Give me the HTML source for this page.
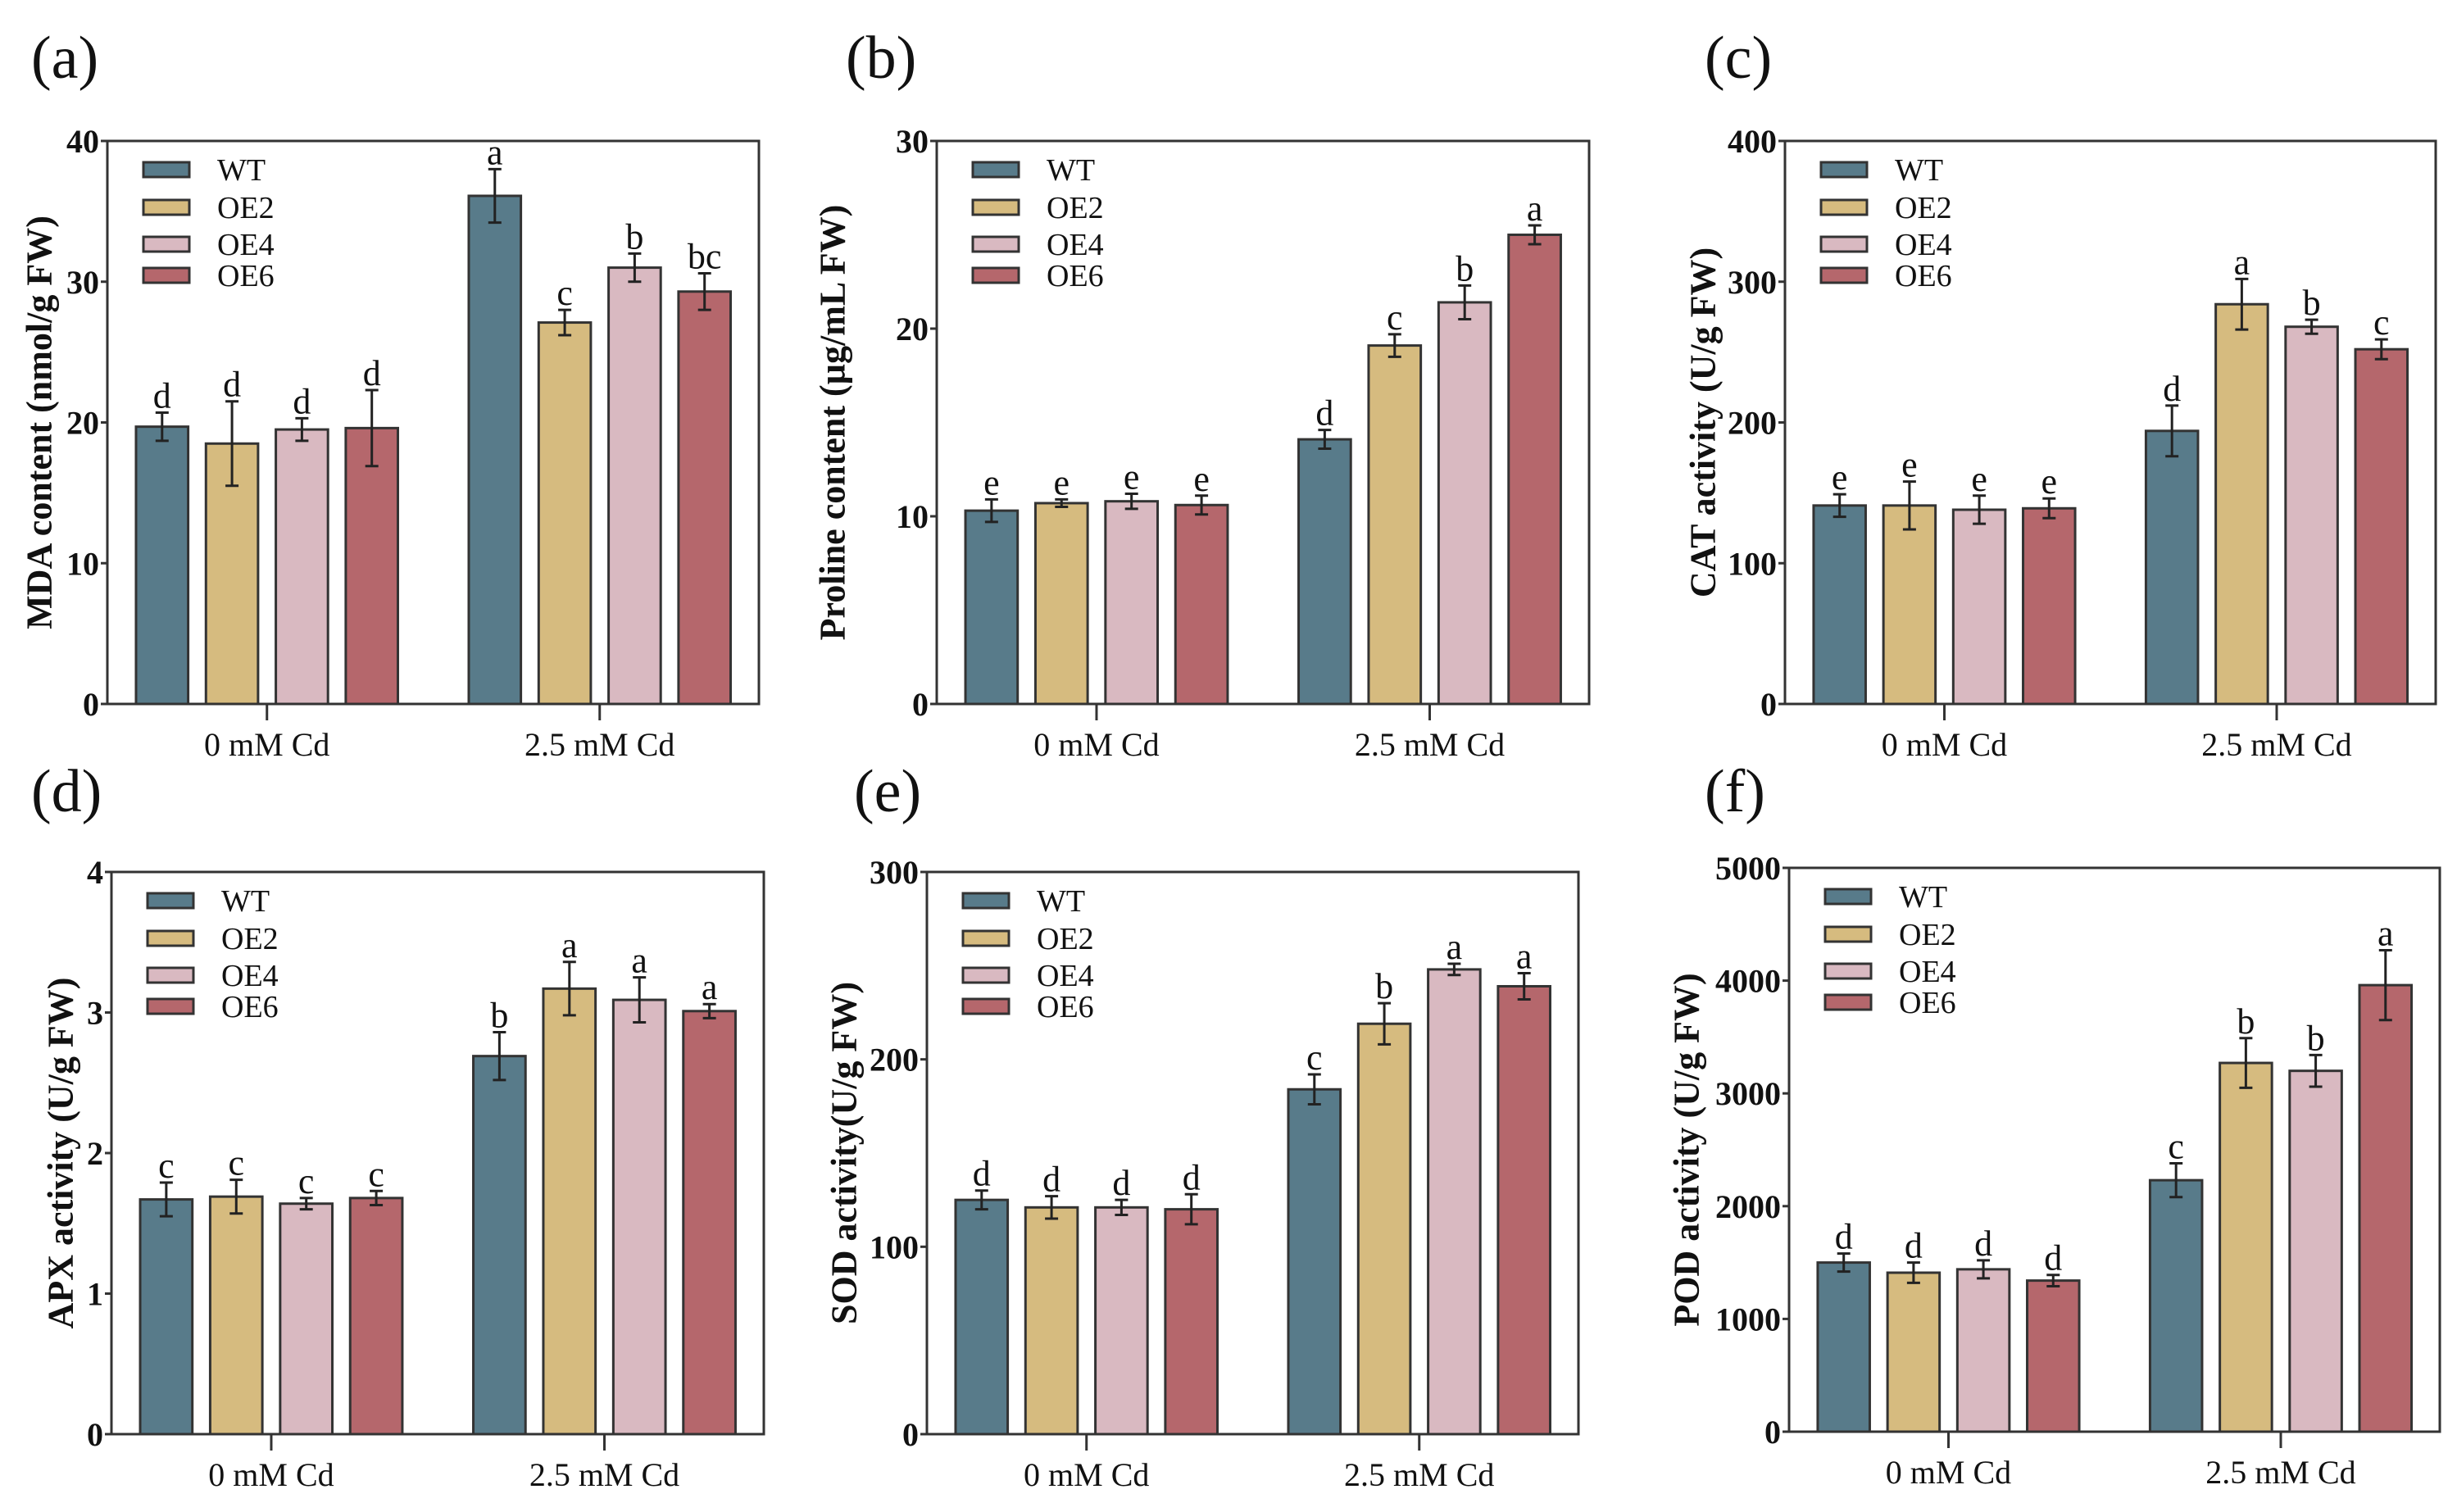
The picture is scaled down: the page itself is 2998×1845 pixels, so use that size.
<!DOCTYPE html>
<html><head><meta charset="utf-8">
<style>
html,body{margin:0;padding:0;background:#fff;}
svg{display:block;}
text{font-family:"Liberation Serif",serif;fill:#111;}
</style></head>
<body>
<svg id="fig" width="2998" height="1845" viewBox="0 0 2998 1845" xmlns="http://www.w3.org/2000/svg"></svg>
<script>
const groups = ["0 mM Cd", "2.5 mM Cd"];
const seriesNames = ["WT", "OE2", "OE4", "OE6"];
const colors = ["#587b8a", "#d6bb7f", "#d9b9c1", "#b5676c"];

const mdaVals = [[19.7, 18.5, 19.5, 19.6], [36.1, 27.1, 31.0, 29.3]];
const mdaErr = [[1.0, 3.0, 0.8, 2.7], [1.9, 0.9, 1.0, 1.3]];
const mdaLet = [["d","d","d","d"], ["a","c","b","bc"]];
const mdaTicks = [0, 10, 20, 30, 40];

const proVals = [[10.3, 10.7, 10.8, 10.6], [14.1, 19.1, 21.4, 25.0]];
const proErr = [[0.6, 0.2, 0.4, 0.5], [0.5, 0.6, 0.9, 0.5]];
const proLet = [["e","e","e","e"], ["d","c","b","a"]];
const proTicks = [0, 10, 20, 30];

const catVals = [[141, 141, 138, 139], [194, 284, 268, 252]];
const catErr = [[8, 17, 10, 7], [18, 18, 5, 7]];
const catLet = [["e","e","e","e"], ["d","a","b","c"]];
const catTicks = [0, 100, 200, 300, 400];

const apxVals = [[1.67, 1.69, 1.64, 1.68], [2.69, 3.17, 3.09, 3.01]];
const apxErr = [[0.12, 0.12, 0.04, 0.05], [0.17, 0.19, 0.16, 0.05]];
const apxLet = [["c","c","c","c"], ["b","a","a","a"]];
const apxTicks = [0, 1, 2, 3, 4];

const sodVals = [[125, 121, 121, 120], [184, 219, 248, 239]];
const sodErr = [[5, 6, 4, 8], [8, 11, 3, 7]];
const sodLet = [["d","d","d","d"], ["c","b","a","a"]];
const sodTicks = [0, 100, 200, 300];

const podVals = [[1500, 1410, 1440, 1340], [2230, 3270, 3200, 3960]];
const podErr = [[80, 90, 80, 50], [150, 220, 140, 310]];
const podLet = [["d","d","d","d"], ["c","b","b","a"]];
const podTicks = [0, 1000, 2000, 3000, 4000, 5000];

const NS = "http://www.w3.org/2000/svg";
const svg = document.getElementById("fig");
function mk(tag, attrs, parent, txt) {
  const e = document.createElementNS(NS, tag);
  for (const k in attrs) e.setAttribute(k, attrs[k]);
  if (txt !== undefined) e.textContent = txt;
  (parent || svg).appendChild(e);
  return e;
}

const panels = [
  {id:"a", L:131, R:926, T:172, B:859, vals:mdaVals, err:mdaErr, let:mdaLet, ticks:mdaTicks, title:"MDA content (nmol/g FW)", tx:48, lx:38, ly:95},
  {id:"b", L:1143, R:1939, T:172, B:859, vals:proVals, err:proErr, let:proLet, ticks:proTicks, title:"Proline content (\u00b5g/mL FW)", tx:1016, lx:1032, ly:95},
  {id:"c", L:2178, R:2972, T:172, B:859, vals:catVals, err:catErr, let:catLet, ticks:catTicks, title:"CAT activity (U/g FW)", tx:2078, lx:2080, ly:95},
  {id:"d", L:136, R:932, T:1064, B:1750, vals:apxVals, err:apxErr, let:apxLet, ticks:apxTicks, title:"APX activity (U/g FW)", tx:74, lx:38, ly:990},
  {id:"e", L:1131, R:1926, T:1064, B:1750, vals:sodVals, err:sodErr, let:sodLet, ticks:sodTicks, title:"SOD activity(U/g FW)", tx:1030, lx:1042, ly:990},
  {id:"f", L:2183, R:2977, T:1059, B:1747, vals:podVals, err:podErr, let:podLet, ticks:podTicks, title:"POD activity (U/g FW)", tx:2058, lx:2080, ly:990}
];

panels.forEach(p => {
  const g = mk("g", {});
  
  
  const W = p.R - p.L, H = p.B - p.T;
  const ymax = p.ticks[p.ticks.length - 1];
  const y = v => p.B - v / ymax * H;
  const barX = (gi, si) => p.L + W * (gi === 0 ? 0.0440 : 0.5547) + si * W * 0.1073;
  const bw = W * 0.080;

  const lab = mk("text", {x:p.lx, y:p.ly, "font-size":74}, g, "(" + p.id + ")");
  
  

  // bars
  p.vals.forEach((gv, gi) => {
    gv.forEach((v, si) => {
      const x = barX(gi, si);
      const r = mk("rect", {x:x, y:y(v), width:bw, height:p.B - y(v), fill:colors[si], stroke:"#333", "stroke-width":3}, g);
      
      
      const cx = x + bw / 2, e = p.err[gi][si];
      const eb = mk("path", {d:`M${cx},${y(v+e)}V${y(v-e)}M${cx-8},${y(v+e)}H${cx+8}M${cx-8},${y(v-e)}H${cx+8}`, stroke:"#222", "stroke-width":3, fill:"none"}, g);
      
      
      const lt = mk("text", {x:cx, y:y(v+e) - 6, "font-size":44, "text-anchor":"middle"}, g, p.let[gi][si]);
      
      
    });
  });

  // frame
  const fr = mk("rect", {x:p.L, y:p.T, width:W, height:H, fill:"none", stroke:"#333", "stroke-width":3}, g);
  
  

  // y ticks
  p.ticks.forEach(t => {
    mk("line", {x1:p.L - 8, x2:p.L, y1:y(t), y2:y(t), stroke:"#333", "stroke-width":3}, g);
    const tl = mk("text", {x:p.L - 10, y:y(t) + 14, "font-size":40, "font-weight":"bold", "text-anchor":"end"}, g, t);
    
    
  });

  // x ticks + labels
  groups.forEach((gn, gi) => {
    const cx = barX(gi, 0) + (barX(gi, 3) + bw - barX(gi, 0)) / 2;
    mk("line", {x1:cx, x2:cx, y1:p.B, y2:p.B + 20, stroke:"#333", "stroke-width":3}, g);
    const xl = mk("text", {x:cx, y:p.B + 63, "font-size":40, "text-anchor":"middle"}, g, gn);
    
    
  });

  // y title
  const my = (p.T + p.B) / 2;
  const yt = mk("text", {x:p.tx, y:my, "font-size":44, "font-weight":"bold", "text-anchor":"middle", "dominant-baseline":"central", transform:`rotate(-90 ${p.tx} ${my})`}, g, p.title);
  
  

  // legend
  const offs = [35, 81, 126, 164];
  seriesNames.forEach((s, si) => {
    const ly = p.T + offs[si];
    const sw = mk("rect", {x:p.L + 44, y:ly - 9, width:56, height:18, fill:colors[si], stroke:"#333", "stroke-width":3}, g);
    
    
    const lt = mk("text", {x:p.L + 134, y:ly + 13, "font-size":38}, g, s);
    
    
  });
});
</script>
</body></html>
